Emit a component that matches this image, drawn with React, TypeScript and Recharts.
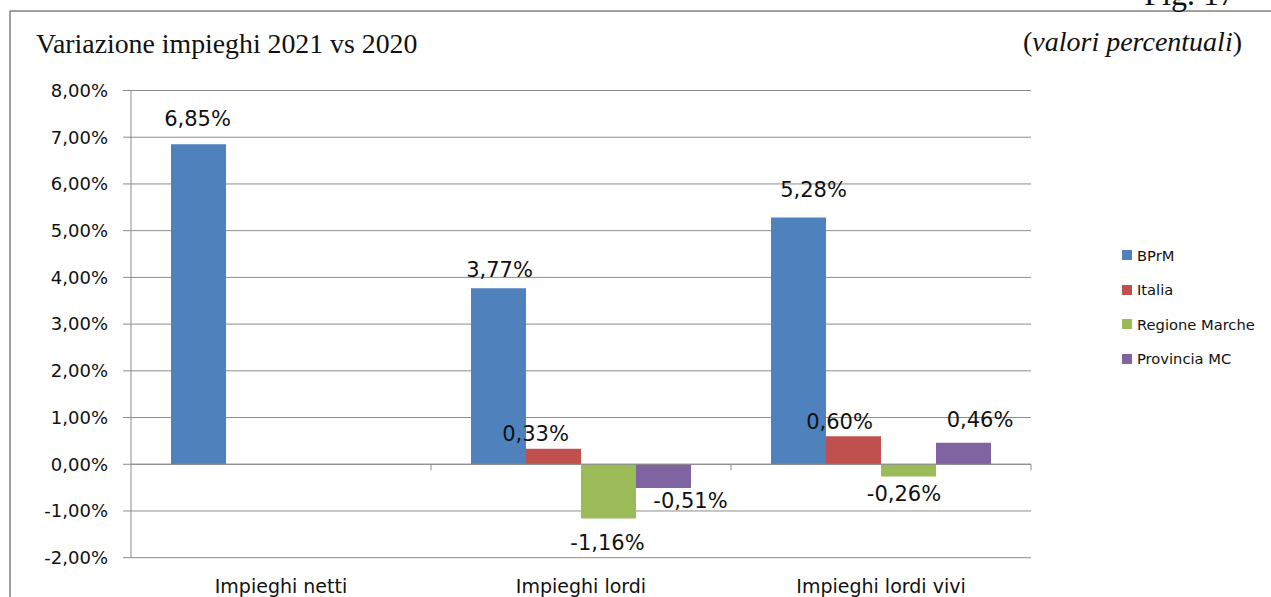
import React from "react"
import { BarChart, Bar, XAxis, YAxis, CartesianGrid, ReferenceLine, LabelList, Legend } from "recharts"

const categories = ["Impieghi netti", "Impieghi lordi", "Impieghi lordi vivi"]
const bprm = [6.85, 3.77, 5.28]
const italia: (number | null)[] = [null, 0.33, 0.6]
const regioneMarche: (number | null)[] = [null, -1.16, -0.26]
const provinciaMC: (number | null)[] = [null, -0.51, 0.46]
const yTicks = [-2, -1, 0, 1, 2, 3, 4, 5, 6, 7, 8]

const series = [
  { key: "bprm", name: "BPrM", color: "#4F81BD", values: bprm },
  { key: "italia", name: "Italia", color: "#C0504D", values: italia },
  { key: "regione", name: "Regione Marche", color: "#9BBB59", values: regioneMarche },
  { key: "provincia", name: "Provincia MC", color: "#8064A2", values: provinciaMC },
]

const data = categories.map((name, i) => ({
  name,
  bprm: bprm[i],
  italia: italia[i],
  regione: regioneMarche[i],
  provincia: provinciaMC[i],
}))

// per-label placement: [horizontal shift, distance from bar end to baseline]
const labelNudge: Record<string, ([number, number] | null)[]> = {
  bprm: [[-1, 18], [1, 11.5], [15, 20.5]],
  italia: [null, [-18, 8], [-14, 7]],
  regione: [null, [-1, 31.5], [-4.5, 25]],
  provincia: [null, [27, 20], [16.5, 15.5]],
}

const SANS = "DejaVu Sans"
const SERIF = "Liberation Serif"
const GRID = "#8c8c8c"
const INK = "#111"

const fmt = (v: number) => `${v.toFixed(2).replace(".", ",")}%`

const makeLabel = (key: string, values: (number | null)[]) => (props: any) => {
  const { x, y, width, height } = props
  let value = props.value
  if (Array.isArray(value)) value = value[1]
  if (value == null) return null
  // null entries may be skipped, so find the category from the value itself
  const i = values.indexOf(value)
  const nudge = i >= 0 ? labelNudge[key][i] : null
  if (!nudge) return null
  const top = Math.min(y, y + height)
  const bottom = Math.max(y, y + height)
  const cx = x + width / 2 + nudge[0]
  const by = value >= 0 ? top - nudge[1] : bottom + nudge[1]
  return (
    <text x={cx} y={by} textAnchor="middle" fontFamily={SANS} fontSize={21} fill={INK}>
      {fmt(value)}
    </text>
  )
}

// zero line with small ticks hanging at category boundaries
const ZeroAxis = (props: any) => {
  const { x1, y1, x2 } = props
  const step = (x2 - x1) / categories.length
  return (
    <g>
      <line x1={x1} y1={y1} x2={x2} y2={y1} stroke={GRID} strokeWidth={1} />
      {categories.map((c, i) => (
        <line key={c} x1={x1 + step * (i + 1)} y1={y1} x2={x1 + step * (i + 1)} y2={y1 + 6} stroke={GRID} />
      ))}
    </g>
  )
}

const CategoryTick = (props: any) => {
  const { x, y, payload } = props
  return (
    <text x={x} y={y + 35.3} textAnchor="middle" fontFamily={SANS} fontSize={19} fill={INK}>
      {payload.value}
    </text>
  )
}

const renderLegend = () => (
  <div style={{ fontFamily: SANS, fontSize: 14.7, color: INK }}>
    {series.map((s) => (
      <div key={s.key} style={{ display: "flex", alignItems: "center", height: 34.5 }}>
        <span style={{ display: "inline-block", width: 10, height: 10, background: s.color, marginRight: 5 }} />
        <span>{s.name}</span>
      </div>
    ))}
  </div>
)

export default function App() {
  return (
    <div style={{ position: "fixed", left: 0, top: 0, width: 1271, height: 597, overflow: "hidden", background: "#fff" }}>
      <div style={{ position: "absolute", left: 0, top: 0 }}>
        <BarChart
          width={1271}
          height={597}
          data={data}
          margin={{ top: 90.5, right: 240, bottom: 0, left: 8 }}
          barCategoryGap="13.333%"
          barGap={0}
        >
          <CartesianGrid vertical={false} stroke={GRID} />
          <XAxis
            dataKey="name"
            height={39.3}
            axisLine={false}
            tickLine={false}
            tickSize={0}
            tickMargin={0}
            tick={<CategoryTick />}
            interval={0}
          />
          <YAxis
            width={123}
            domain={[-2, 8]}
            ticks={yTicks}
            axisLine={{ stroke: GRID }}
            tickLine={{ stroke: GRID }}
            tickSize={8}
            tickMargin={15}
            tick={{ fontFamily: SANS, fontSize: 18, fill: INK }}
            tickFormatter={(v: number) => fmt(v)}
          />
          <ReferenceLine y={0} shape={<ZeroAxis />} />
          {series.map((s) => (
            <Bar key={s.key} dataKey={s.key} name={s.name} fill={s.color} isAnimationActive={false}>
              <LabelList dataKey={s.key} content={makeLabel(s.key, s.values)} />
            </Bar>
          ))}
          <Legend
            layout="vertical"
            align="center"
            verticalAlign="middle"
            wrapperStyle={{ left: 1122, top: 238, width: 149 }}
            content={renderLegend}
          />
        </BarChart>
      </div>
      <svg width={1271} height={597} style={{ position: "absolute", left: 0, top: 0, pointerEvents: "none" }}>
        <line x1={10} y1={11} x2={1271} y2={11} stroke="#808080" strokeWidth={1.5} />
        <line x1={10} y1={11} x2={10} y2={597} stroke="#808080" strokeWidth={1.5} />
        <text x={1235} y={5} textAnchor="end" fontFamily={SERIF} fontSize={32} fill={INK}>
          Fig. 17
        </text>
        <text x={36} y={53} fontFamily={SERIF} fontSize={27.8} fill={INK}>
          Variazione impieghi 2021 vs 2020
        </text>
        <text x={1242} y={51} textAnchor="end" fontFamily={SERIF} fontSize={28} fill={INK}>
          (<tspan fontStyle="italic">valori percentuali</tspan>)
        </text>
      </svg>
    </div>
  )
}
